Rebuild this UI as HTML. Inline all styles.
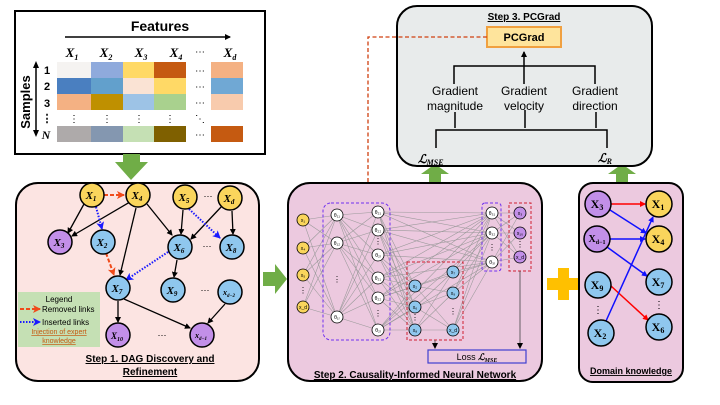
<!DOCTYPE html>
<html><head><meta charset="utf-8"><style>
html,body{margin:0;padding:0;background:#fff;}
svg{display:block;font-family:"Liberation Sans",sans-serif;}
.it{font-family:"Liberation Serif",serif;font-style:italic;font-weight:bold;}
</style></head><body>
<svg id="s" width="720" height="405" viewBox="0 0 720 405" xmlns="http://www.w3.org/2000/svg">
<defs>
<marker id="ak" markerWidth="6" markerHeight="6" refX="5" refY="3" orient="auto" markerUnits="userSpaceOnUse"><path d="M0,0 L6,3 L0,6 z" fill="#000"/></marker>
<marker id="ar" markerWidth="8" markerHeight="8" refX="7" refY="4" orient="auto" markerUnits="userSpaceOnUse"><path d="M0,0 L8,4 L0,8 L2,4 z" fill="#f04a1a"/></marker>
<marker id="ab" markerWidth="8" markerHeight="8" refX="7" refY="4" orient="auto" markerUnits="userSpaceOnUse"><path d="M0,0 L8,4 L0,8 L2,4 z" fill="#1a1aff"/></marker>
<marker id="rr" markerWidth="6" markerHeight="6" refX="5" refY="3" orient="auto" markerUnits="userSpaceOnUse"><path d="M0,0 L6,3 L0,6 z" fill="#f00"/></marker>
<marker id="bb" markerWidth="6" markerHeight="6" refX="5" refY="3" orient="auto" markerUnits="userSpaceOnUse"><path d="M0,0 L6,3 L0,6 z" fill="#1010ff"/></marker>
</defs>

<!-- Top data box -->
<rect x="15" y="11" width="250" height="143" fill="#fff" stroke="#000" stroke-width="2"/>
<text x="160" y="31" font-size="14" font-weight="bold" text-anchor="middle">Features</text>
<line x1="65" y1="37" x2="230" y2="37" stroke="#000" stroke-width="1.5" marker-end="url(#ak)"/>
<g class="it" font-size="13" text-anchor="middle">
<text x="72" y="57">X<tspan font-size="8" dy="3">1</tspan></text>
<text x="106" y="57">X<tspan font-size="8" dy="3">2</tspan></text>
<text x="141" y="57">X<tspan font-size="8" dy="3">3</tspan></text>
<text x="176" y="57">X<tspan font-size="8" dy="3">4</tspan></text>
<text x="230" y="57">X<tspan font-size="8" dy="3">d</tspan></text>
</g>
<text x="200" y="55" font-size="10" text-anchor="middle">⋯</text>
<g>
<rect x="57" y="62" width="34" height="16" fill="#f5f3f1"/><rect x="91" y="62" width="32" height="16" fill="#8faadc"/><rect x="123" y="62" width="31" height="16" fill="#ffd966"/><rect x="154" y="62" width="32" height="16" fill="#c55a11"/><rect x="211" y="62" width="32" height="16" fill="#f4b183"/>
<rect x="57" y="78" width="34" height="16" fill="#4a7fc0"/><rect x="91" y="78" width="32" height="16" fill="#62a0cc"/><rect x="123" y="78" width="31" height="16" fill="#fae3d4"/><rect x="154" y="78" width="32" height="16" fill="#ffd966"/><rect x="211" y="78" width="32" height="16" fill="#70a8d4"/>
<rect x="57" y="94" width="34" height="16" fill="#f4b183"/><rect x="91" y="94" width="32" height="16" fill="#bf9000"/><rect x="123" y="94" width="31" height="16" fill="#9dc3e6"/><rect x="154" y="94" width="32" height="16" fill="#a9d18e"/><rect x="211" y="94" width="32" height="16" fill="#f8cbad"/>
<rect x="57" y="126" width="34" height="16" fill="#aeaaaa"/><rect x="91" y="126" width="32" height="16" fill="#8497b0"/><rect x="123" y="126" width="31" height="16" fill="#c5e0b4"/><rect x="154" y="126" width="32" height="16" fill="#7f6000"/><rect x="211" y="126" width="32" height="16" fill="#c55a11"/>
</g>
<g font-size="10" text-anchor="middle">
<text x="200" y="74">⋯</text><text x="200" y="90">⋯</text><text x="200" y="106">⋯</text><text x="200" y="138">⋯</text>
<text x="74" y="122">⋮</text><text x="107" y="122">⋮</text><text x="139" y="122">⋮</text><text x="170" y="122">⋮</text><text x="200" y="122">⋱</text>
</g>
<g font-size="11" font-weight="bold" text-anchor="middle">
<text x="47" y="74">1</text><text x="47" y="90">2</text><text x="47" y="107">3</text><text x="47" y="122">⋮</text>
</g>
<text x="46" y="139" class="it" font-size="12" text-anchor="middle">N</text>
<text transform="translate(30,102) rotate(-90)" font-size="13" font-weight="bold" text-anchor="middle">Samples</text>
<line x1="36" y1="66" x2="36" y2="132" stroke="#000" stroke-width="1.5"/>
<path d="M33,68 L36,61 L39,68 z M33,130 L36,137 L39,130 z" fill="#000"/>

<!-- green arrows -->
<g fill="#70ad47">
<path d="M123,154 H140 V162 H148 L131,180 L115,162 H123 z"/>
<path d="M263,272 H275 V264 L287,279 L275,294 V286 H263 z"/>
<path d="M429,182 V174 H421 L435,164 L449,174 H441 V182 z"/>
<path d="M616,182 V174 H608 L622,164 L636,174 H628 V182 z"/>
</g>
<!-- yellow plus -->
<path d="M558,268 H569 V278 H580 V290 H569 V300 H558 V290 H547 V278 H558 z" fill="#ffc000"/>

<!-- Step 1 box -->
<rect x="16" y="183" width="243" height="198" rx="22" fill="#fce4e2" stroke="#000" stroke-width="2"/>
<rect x="18" y="292" width="82" height="55" fill="#c5e0b4"/>
<text x="59" y="302" font-size="8" text-anchor="middle">Legend</text>
<line x1="20" y1="309" x2="40" y2="309" stroke="#f04a1a" stroke-width="2" stroke-dasharray="4,2" marker-end="url(#ar)"/>
<text x="42" y="312" font-size="8">Removed links</text>
<line x1="20" y1="322" x2="40" y2="322" stroke="#1a1aff" stroke-width="2" stroke-dasharray="1.5,1.5" marker-end="url(#ab)"/>
<text x="42" y="325" font-size="8">Inserted links</text>
<text x="59" y="334" font-size="7" fill="#c55a11" text-anchor="middle" text-decoration="underline">Injection of expert</text>
<text x="59" y="343" font-size="7" fill="#c55a11" text-anchor="middle" text-decoration="underline">knowledge</text>
<g stroke="#000" stroke-width="1.3" fill="none" marker-end="url(#ak)">
<line x1="84" y1="204" x2="68" y2="233"/>
<line x1="130" y1="202" x2="72" y2="236"/>
<line x1="136" y1="208" x2="120" y2="275"/>
<line x1="147" y1="204" x2="172" y2="235"/>
<line x1="183" y1="210" x2="181" y2="234"/>
<line x1="222" y1="206" x2="191" y2="239"/>
<line x1="232" y1="211" x2="233" y2="234"/>
<line x1="177" y1="260" x2="174" y2="277"/>
<line x1="118" y1="301" x2="118" y2="322"/>
<line x1="124" y1="299" x2="190" y2="328"/>
<line x1="225" y1="304" x2="208" y2="323"/>
</g>
<line x1="104" y1="195" x2="124" y2="195" stroke="#f04a1a" stroke-width="2" stroke-dasharray="4,2" marker-end="url(#ar)"/>
<line x1="106" y1="253" x2="114" y2="275" stroke="#f04a1a" stroke-width="2" stroke-dasharray="4,2" marker-end="url(#ar)"/>
<line x1="96" y1="207" x2="102" y2="229" stroke="#1a1aff" stroke-width="2" stroke-dasharray="1.5,1.5" marker-end="url(#ab)"/>
<line x1="189" y1="209" x2="220" y2="238" stroke="#1a1aff" stroke-width="2" stroke-dasharray="1.5,1.5" marker-end="url(#ab)"/>
<line x1="168" y1="252" x2="126" y2="280" stroke="#1a1aff" stroke-width="2" stroke-dasharray="1.5,1.5" marker-end="url(#ab)"/>
<g stroke="#000" stroke-width="1.5">
<circle cx="92" cy="195" r="12" fill="#fad55c"/><circle cx="138" cy="195" r="12" fill="#fad55c"/><circle cx="185" cy="197" r="12" fill="#fad55c"/><circle cx="230" cy="198" r="12" fill="#fad55c"/>
<circle cx="60" cy="242" r="12" fill="#c28fe8"/><circle cx="103" cy="242" r="12" fill="#8fc7ee"/><circle cx="180" cy="247" r="12" fill="#8fc7ee"/><circle cx="232" cy="247" r="12" fill="#8fc7ee"/>
<circle cx="118" cy="288" r="12" fill="#8fc7ee"/><circle cx="173" cy="290" r="12" fill="#8fc7ee"/><circle cx="230" cy="292" r="12" fill="#8fc7ee"/>
<circle cx="118" cy="335" r="12" fill="#c28fe8"/><circle cx="202" cy="335" r="12" fill="#c28fe8"/>
</g>
<g class="it" font-size="11" text-anchor="middle">
<text x="91" y="199">X<tspan font-size="7" dy="2">1</tspan></text>
<text x="137" y="199">X<tspan font-size="7" dy="2">4</tspan></text>
<text x="184" y="201">X<tspan font-size="7" dy="2">5</tspan></text>
<text x="229" y="202">X<tspan font-size="7" dy="2">d</tspan></text>
<text x="59" y="246">X<tspan font-size="7" dy="2">3</tspan></text>
<text x="102" y="246">X<tspan font-size="7" dy="2">2</tspan></text>
<text x="179" y="251">X<tspan font-size="7" dy="2">6</tspan></text>
<text x="231" y="251">X<tspan font-size="7" dy="2">8</tspan></text>
<text x="117" y="292">X<tspan font-size="7" dy="2">7</tspan></text>
<text x="172" y="294">X<tspan font-size="7" dy="2">9</tspan></text>
<text x="229" y="295" font-size="8">x<tspan font-size="5" dy="2">d−2</tspan></text>
<text x="117" y="339" font-size="9">X<tspan font-size="6" dy="2">10</tspan></text>
<text x="201" y="338" font-size="8">x<tspan font-size="5" dy="2">d−1</tspan></text>
</g>
<g font-size="9" text-anchor="middle"><text x="208" y="199">⋯</text><text x="207" y="249">⋯</text><text x="205" y="293">⋯</text><text x="162" y="338">⋯</text></g>
<text x="150" y="362" font-size="10" font-weight="bold" text-anchor="middle" text-decoration="underline">Step 1. DAG Discovery and</text>
<text x="150" y="375" font-size="10" font-weight="bold" text-anchor="middle" text-decoration="underline">Refinement</text>

<!-- Step 3 -->
<rect x="397" y="6" width="255" height="160" rx="20" fill="#e8ebeb" stroke="#000" stroke-width="2"/>
<text x="524" y="20" font-size="10" font-weight="bold" text-anchor="middle" text-decoration="underline">Step 3. PCGrad</text>
<rect x="487" y="27" width="74" height="20" fill="#fee49c" stroke="#f0a040" stroke-width="2"/>
<text x="524" y="41" font-size="11" font-weight="bold" text-anchor="middle">PCGrad</text>
<g stroke="#000" stroke-width="1.5" fill="none">
<line x1="524" y1="84" x2="524" y2="52" marker-end="url(#ak)"/>
<path d="M454,84 V66 H595 V84"/>
<line x1="455" y1="112" x2="455" y2="128"/><line x1="525" y1="110" x2="525" y2="128"/><line x1="596" y1="112" x2="596" y2="128"/>
<path d="M436,148 V130 H607 V148"/>
</g>
<g font-size="12" text-anchor="middle">
<text x="455" y="95">Gradient</text><text x="455" y="110">magnitude</text>
<text x="524" y="95">Gradient</text><text x="524" y="110">velocity</text>
<text x="595" y="95">Gradient</text><text x="595" y="110">direction</text>
</g>
<text x="418" y="163" class="it" font-size="12">ℒ<tspan font-size="8" dy="2">MSE</tspan></text>
<text x="598" y="162" class="it" font-size="12">ℒ<tspan font-size="8" dy="2">R</tspan></text>
<path d="M487,37 H368 V183" fill="none" stroke="#d04010" stroke-width="1.3" stroke-dasharray="4,2.5"/>
<path d="M364,182 L372,182 L368,190 z" fill="#d04010"/>

<!-- Step 2 -->
<rect x="288" y="183" width="254" height="198" rx="22" fill="#ecc9df" stroke="#000" stroke-width="2"/>
<g id="nn" stroke="#999" stroke-width="0.55"></g>
<rect x="323" y="203" width="67" height="137" rx="8" fill="none" stroke="#7030f0" stroke-width="1" stroke-dasharray="3,2"/>
<rect x="407" y="262" width="56" height="78" fill="none" stroke="#d02030" stroke-width="1" stroke-dasharray="3,2"/>
<rect x="482" y="203" width="19" height="68" rx="3" fill="none" stroke="#7030f0" stroke-width="1" stroke-dasharray="3,2"/>
<rect x="509" y="203" width="22" height="68" fill="none" stroke="#d02030" stroke-width="1" stroke-dasharray="3,2"/>
<g id="nodes" stroke="#000" stroke-width="0.8"></g>
<g stroke="#444" stroke-width="0.8"><line x1="435" y1="340" x2="435" y2="348" marker-end="url(#ak)"/><line x1="520" y1="271" x2="520" y2="348" marker-end="url(#ak)"/></g>
<rect x="428" y="350" width="98" height="13" fill="#ecc9df" stroke="#4040d0" stroke-width="1.2"/>
<text x="477" y="360" font-size="9" text-anchor="middle">Loss <tspan class="it">ℒ<tspan font-size="6" dy="2">MSE</tspan></tspan></text>
<text x="415" y="378" font-size="10" font-weight="bold" text-anchor="middle" text-decoration="underline">Step 2. Causality-Informed Neural Network</text>

<!-- Domain knowledge -->
<rect x="579" y="183" width="104" height="199" rx="14" fill="#ecc9df" stroke="#000" stroke-width="2"/>
<g stroke-width="1.5" fill="none">
<line x1="611" y1="204" x2="645" y2="204" stroke="#f00" marker-end="url(#rr)"/>
<line x1="610" y1="210" x2="646" y2="233" stroke="#1010ff" marker-end="url(#bb)"/>
<line x1="610" y1="239" x2="645" y2="239" stroke="#1010ff" marker-end="url(#bb)"/>
<line x1="607" y1="247" x2="647" y2="276" stroke="#1010ff" marker-end="url(#bb)"/>
<line x1="611" y1="286" x2="648" y2="320" stroke="#f00" marker-end="url(#rr)"/>
<line x1="606" y1="321" x2="653" y2="217" stroke="#1010ff" marker-end="url(#bb)"/>
</g>
<g stroke="#000" stroke-width="1.5">
<circle cx="598" cy="204" r="13" fill="#c28fe8"/><circle cx="597" cy="239" r="13" fill="#c28fe8"/><circle cx="598" cy="285" r="13" fill="#8fc7ee"/><circle cx="601" cy="333" r="13" fill="#8fc7ee"/>
<circle cx="659" cy="204" r="13" fill="#fad55c"/><circle cx="659" cy="239" r="13" fill="#fad55c"/><circle cx="659" cy="282" r="13" fill="#8fc7ee"/><circle cx="659" cy="327" r="13" fill="#8fc7ee"/>
</g>
<g font-family="Liberation Serif,serif" font-weight="bold" font-size="12" text-anchor="middle">
<text x="597" y="208">X<tspan font-size="8" dy="2">3</tspan></text>
<text x="597" y="242" font-size="10">X<tspan font-size="6" dy="2">d−1</tspan></text>
<text x="597" y="289">X<tspan font-size="8" dy="2">9</tspan></text>
<text x="600" y="337">X<tspan font-size="8" dy="2">2</tspan></text>
<text x="658" y="208">X<tspan font-size="8" dy="2">1</tspan></text>
<text x="658" y="243">X<tspan font-size="8" dy="2">4</tspan></text>
<text x="658" y="286">X<tspan font-size="8" dy="2">7</tspan></text>
<text x="658" y="331">X<tspan font-size="8" dy="2">6</tspan></text>
</g>
<g font-size="10" text-anchor="middle"><text x="598" y="313">⋮</text><text x="659" y="308">⋮</text></g>
<text x="631" y="374" font-size="9" font-weight="bold" text-anchor="middle" text-decoration="underline">Domain knowledge</text>

<script>
(function(){
var NS="http://www.w3.org/2000/svg";
var L0=[[303,220],[303,248],[303,275],[303,307]];
var L1=[[337,215],[337,243],[337,317]];
var L2=[[378,212],[378,230],[378,255],[378,278],[378,298],[378,330]];
var L3=[[415,286],[415,307],[415,330]];
var L4=[[453,272],[453,293],[453,330]];
var L5=[[492,213],[492,233],[492,262]];
var L6=[[520,213],[520,233],[520,257]];
var g=document.getElementById('nn');
function conn(A,B){A.forEach(function(a){B.forEach(function(b){var l=document.createElementNS(NS,'line');l.setAttribute('x1',a[0]);l.setAttribute('y1',a[1]);l.setAttribute('x2',b[0]);l.setAttribute('y2',b[1]);g.appendChild(l);});});}
conn(L0,L1);conn(L1,L2);conn(L2,L3);conn(L2,L5);conn(L3,L4);conn(L4,L5);conn(L5,L6);
var n=document.getElementById('nodes');
function dr(A,f,r,lab,dots){A.forEach(function(p,i){var c=document.createElementNS(NS,'circle');c.setAttribute('cx',p[0]);c.setAttribute('cy',p[1]);c.setAttribute('r',r);c.setAttribute('fill',f);n.appendChild(c);
if(lab){var t=document.createElementNS(NS,'text');t.setAttribute('x',p[0]);t.setAttribute('y',p[1]+2);t.setAttribute('font-size','5');t.setAttribute('text-anchor','middle');t.setAttribute('stroke','none');t.setAttribute('fill','#000');t.textContent=lab[i];n.appendChild(t);}});
(dots||[]).forEach(function(d){var t=document.createElementNS(NS,'text');t.setAttribute('x',d[0]);t.setAttribute('y',d[1]);t.setAttribute('font-size','8');t.setAttribute('text-anchor','middle');t.setAttribute('stroke','none');t.textContent='⋮';n.appendChild(t);});}
dr(L0,'#fad55c',6,['x₁','x₄','x₅','x_d'],[[303,293]]);
dr(L1,'#fff',6,['θ₁₁','θ₁₂','θ₁ᵣ'],[[337,282]]);
dr(L2,'#fff',6,['θ₂₁','θ₂₂','θ₂ᵢ','θ₂₁','θ₂₂','θ₂ᵢ'],[[378,244],[378,316]]);
dr(L3,'#8fc7ee',6,['x₂','x₆','x₈'],[[415,320]]);
dr(L4,'#8fc7ee',6,['x₇','x₉','x_d'],[[453,314]]);
dr(L5,'#fff',6,['θ₃₁','θ₃₂','θ₃ᵢ'],[[492,250]]);
dr(L6,'#c28fe8',6,['x₃','x₁₀','x_d'],[[520,247]]);
})();
</script>
</svg>
</body></html>
